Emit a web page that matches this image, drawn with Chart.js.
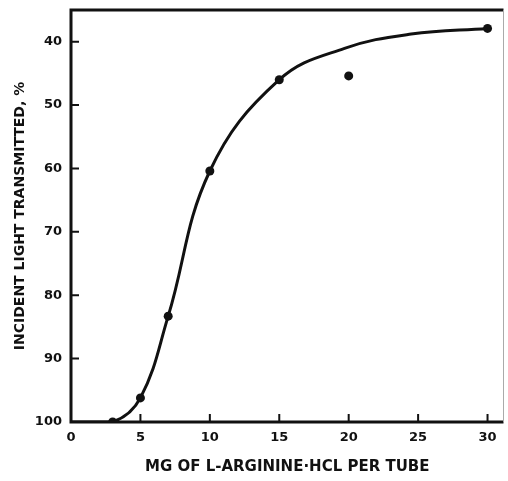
<!DOCTYPE html>
<html>
<head>
<meta charset="utf-8">
<script src="https://cdn.jsdelivr.net/npm/chart.js@4.4.1/dist/chart.umd.min.js"></script>
<style>
  html, body { margin: 0; padding: 0; background: #fff; }
  canvas { display: block; }
</style>
</head>
<body>
<canvas id="chart" width="508" height="481"></canvas>
<script>
// measured points (mg per tube vs % transmitted)
const doseMg = [3, 5, 7, 10, 15, 20, 30];
const transmitted = [100, 96.2, 83.3, 60.4, 46, 45.4, 37.9];

// hand-drawn curve
const curveMg = [0, 3, 5, 7, 10, 15, 19.7, 24.5, 30];
const curveT = [100, 100, 96.2, 83.3, 60.4, 46, 41.05, 38.8, 37.9];

const xTicks = [0, 5, 10, 15, 20, 25, 30];
const yTicks = [40, 50, 60, 70, 80, 90, 100];

const INK = '#111';
const FONT = "'DejaVu Sans', sans-serif";

// box around the plot + inward tick marks
const framePlugin = {
    id: 'frame',
    afterDraw(chart) {
        const { ctx, chartArea: a, scales: { x, y } } = chart;
        ctx.save();
        ctx.strokeStyle = INK;
        ctx.lineWidth = 3;
        ctx.beginPath();
        ctx.moveTo(a.right, a.top);
        ctx.lineTo(a.left, a.top);
        ctx.lineTo(a.left, a.bottom);
        ctx.lineTo(a.right, a.bottom);
        ctx.stroke();

        ctx.lineWidth = 1;
        ctx.strokeStyle = '#aaa';
        ctx.beginPath();
        ctx.moveTo(a.right, a.top);
        ctx.lineTo(a.right, a.bottom);
        ctx.stroke();

        ctx.strokeStyle = INK;
        ctx.lineWidth = 2;
        ctx.beginPath();
        xTicks.slice(1).forEach(v => {
            const px = x.getPixelForValue(v);
            ctx.moveTo(px, a.bottom);
            ctx.lineTo(px, a.bottom - 8);
        });
        yTicks.slice(0, -1).forEach(v => {
            const py = y.getPixelForValue(v);
            ctx.moveTo(a.left, py);
            ctx.lineTo(a.left + 8, py);
        });
        ctx.stroke();
        ctx.restore();
    }
};

new Chart(document.getElementById('chart'), {
    type: 'scatter',
    data: {
        datasets: [
            {
                type: 'line',
                data: curveMg.map((v, i) => ({ x: v, y: curveT[i] })),
                borderColor: INK,
                borderWidth: 3,
                pointRadius: 0,
                tension: 0.4,
                fill: false
            },
            {
                data: doseMg.map((v, i) => ({ x: v, y: transmitted[i] })),
                backgroundColor: INK,
                borderColor: INK,
                pointRadius: 4.5,
                borderWidth: 0
            }
        ]
    },
    options: {
        responsive: false,
        animation: false,
        layout: { padding: { top: 10, right: 2, left: 0, bottom: 0 } },
        plugins: {
            legend: { display: false },
            tooltip: { enabled: false }
        },
        scales: {
            x: {
                type: 'linear',
                min: 0,
                max: 31.15,
                afterBuildTicks: s => { s.ticks = xTicks.map(v => ({ value: v })); },
                afterFit: s => { s.height = 59; s.paddingLeft = 0; s.paddingRight = 0; },
                grid: { display: false, drawTicks: false },
                border: { display: false },
                ticks: {
                    padding: 8,
                    color: INK,
                    font: { family: FONT, size: 13, weight: 'bold' }
                },
                title: {
                    display: true,
                    text: 'MG OF L-ARGININE·HCL PER TUBE',
                    color: INK,
                    font: { family: FONT, size: 15, weight: 'bold' },
                    padding: { top: 0, bottom: 5 }
                }
            },
            y: {
                min: 35,
                max: 100,
                reverse: true,
                afterBuildTicks: s => { s.ticks = yTicks.map(v => ({ value: v })); },
                afterFit: s => { s.width = 71; s.paddingTop = 0; s.paddingBottom = 0; },
                grid: { display: false, drawTicks: false },
                border: { display: false },
                ticks: {
                    padding: 9,
                    color: INK,
                    font: { family: FONT, size: 13, weight: 'bold' }
                },
                title: {
                    display: true,
                    text: 'INCIDENT LIGHT TRANSMITTED, %',
                    color: INK,
                    font: { family: FONT, size: 14, weight: 'bold' },
                    padding: { top: 12, bottom: 0 }
                }
            }
        }
    },
    plugins: [framePlugin]
});
</script>
</body>
</html>
